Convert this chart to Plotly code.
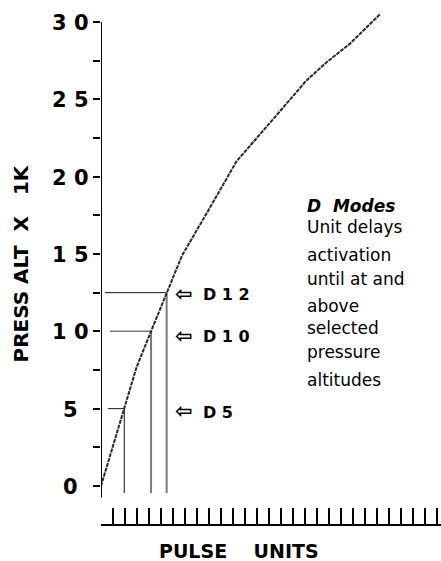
import plotly.graph_objects as go

# ---- data ----
pulse = [0, 1.17, 1.94, 2.97, 4.17, 5.47, 6.75, 9.08, 11.3, 14.1, 15.75, 17.1, 18.8, 20.75, 23.25]
alt_k = [0, 3.0, 5.0, 7.7, 10.0, 12.5, 14.9, 18.0, 21.0, 23.5, 24.95, 26.2, 27.4, 28.6, 30.5]

mode_alt = [5, 10, 12.5]
mode_pulse = [1.94, 4.17, 5.47]
mode_labels = ["D 5", "D 1 0", "D 1 2"]

y_tick_vals = [0, 5, 10, 15, 20, 25, 30]
y_tick_text = ["0", "5", "1 0", "1 5", "2 0", "2 5", "3 0"]
y_minor_vals = [2.5, 7.5, 12.5, 17.5, 22.5, 27.5]

note_title = "D\u00a0\u00a0Modes"
note_lines = ["Unit delays", "activation", "until at and", "above", "selected", "pressure", "altitudes"]

# ---- layout geometry (page pixels) ----
W, H = 441, 561
L, R, T, B = 101, 441, 10, 524
PX_PER_Y = 15.4667
PX_PER_X = 12.0
Y0_PX = 486
ymin = -(B - Y0_PX) / PX_PER_Y
ymax = 30 + (Y0_PX - 30 * PX_PER_Y - T) / PX_PER_Y
xmax = (R - L) / PX_PER_X


def px_x(px):
    return (px - L) / (R - L)


def px_y(py):
    return (B - py) / (B - T)


FONT = "DejaVu Sans"

fig = go.Figure()

# reference lines to the curve
h_start = [0.58, 0.75, 0.33]
h_color = ["#111111", "#7a7a7a", "#111111"]
h_width = [1, 1.5, 1]
v_color = ["#111111", "#7a7a7a", "#7a7a7a"]
v_width = [1, 2, 2]
for i in range(len(mode_alt)):
    fig.add_trace(go.Scatter(x=[h_start[i], mode_pulse[i]], y=[mode_alt[i], mode_alt[i]], mode="lines",
                             line=dict(color=h_color[i], width=h_width[i]), hoverinfo="skip", showlegend=False))
    fig.add_trace(go.Scatter(x=[mode_pulse[i], mode_pulse[i]], y=[mode_alt[i], -0.45], mode="lines",
                             line=dict(color=v_color[i], width=v_width[i]), hoverinfo="skip", showlegend=False))

# main curve
fig.add_trace(go.Scatter(x=pulse, y=alt_k, mode="lines",
                         line=dict(color="#2a2a2a", width=2, dash="4px,1px"),
                         showlegend=False))

# y-axis line (stops just below zero)
fig.add_shape(type="line", xref="x", yref="y", x0=0, x1=0, y0=-0.75, y1=30,
              line=dict(color="black", width=2))

annotations = []
# y tick labels, centered
for v, t in zip(y_tick_vals, y_tick_text):
    annotations.append(dict(x=px_x(70), xref="paper", y=v, yref="y", text=t, showarrow=False,
                            xanchor="center", yanchor="middle", yshift=-1,
                            font=dict(family=FONT, size=21, color="black", weight="bold")))

# mode arrows and labels
label_shift = [-3.5, -5.5, -2]
for a, lab, s in zip(mode_alt, mode_labels, label_shift):
    annotations.append(dict(x=px_x(184), xref="paper", y=a, yref="y", text="\u21e6", showarrow=False,
                            xanchor="center", yanchor="middle", yshift=s + 1,
                            font=dict(family=FONT, size=21, color="black", weight="bold")))
    annotations.append(dict(x=px_x(201), xref="paper", y=a, yref="y", text=lab, showarrow=False,
                            xanchor="left", yanchor="middle", yshift=s,
                            font=dict(family=FONT, size=16, color="black", weight="bold")))

# note block
annotations.append(dict(x=px_x(305), xref="paper", y=px_y(206), yref="paper", text=note_title, showarrow=False,
                        xanchor="left", yanchor="middle",
                        font=dict(family=FONT, size=17, color="black", weight="bold", style="italic")))
note_y = [227, 255, 279, 306, 328, 352, 380]
for ln, yy in zip(note_lines, note_y):
    annotations.append(dict(x=px_x(305), xref="paper", y=px_y(yy), yref="paper", text=ln, showarrow=False,
                            xanchor="left", yanchor="middle",
                            font=dict(family=FONT, size=17, color="black")))

# axis titles
annotations.append(dict(x=px_x(20.5), xref="paper", y=px_y(264), yref="paper",
                        text="PRESS ALT\u00a0\u00a0X\u00a0\u00a0\u00a01K", textangle=-90, showarrow=False,
                        xanchor="center", yanchor="middle",
                        font=dict(family=FONT, size=20, color="black", weight="bold")))
annotations.append(dict(x=px_x(238.5), xref="paper", y=px_y(551), yref="paper",
                        text="PULSE\u00a0\u00a0\u00a0\u00a0UNITS", showarrow=False,
                        xanchor="center", yanchor="middle",
                        font=dict(family=FONT, size=19, color="black", weight="bold")))

fig.update_layout(
    width=W, height=H, autosize=False,
    margin=dict(l=L, r=W - R, t=T, b=H - B, pad=0),
    paper_bgcolor="white", plot_bgcolor="white",
    showlegend=False,
    annotations=annotations,
    xaxis=dict(range=[0, xmax], tickmode="linear", tick0=0, dtick=1, ticks="inside", ticklen=16,
               tickwidth=2, tickcolor="black", showline=True, linewidth=2, linecolor="black",
               showticklabels=False, showgrid=False, zeroline=False, fixedrange=True),
    yaxis=dict(range=[ymin, ymax], tickmode="array",
               tickvals=sorted(y_tick_vals + y_minor_vals), ticks="outside", ticklen=7,
               tickwidth=2, tickcolor="black", showline=False, showticklabels=False,
               showgrid=False, zeroline=False, fixedrange=True),
)

fig.write_html("out.html", config={"displayModeBar": False},
               post_script="document.body.style.margin='0';document.body.style.overflow='hidden';")
